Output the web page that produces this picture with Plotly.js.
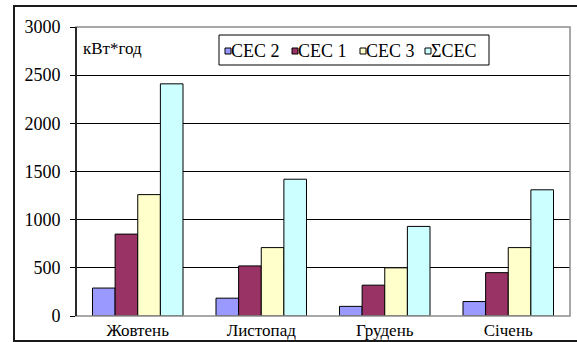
<!DOCTYPE html>
<html>
<head>
<meta charset="utf-8">
<script src="https://cdn.plot.ly/plotly-3.0.1.min.js"></script>
<style>
  html, body { margin: 0; padding: 0; background: #ffffff; }
  #chart { width: 577px; height: 342px; }
</style>
</head>
<body>
<div id="chart"></div>
<script>
// Monthly electricity output of the solar stations, kWh
const months = ['Жовтень', 'Листопад', 'Грудень', 'Січень'];
const seriesNames = ['СЕС 2', 'СЕС 1', 'СЕС 3', 'ΣСЕС'];
const ses2 = [290, 185, 100, 150];
const ses1 = [850, 520, 320, 450];
const ses3 = [1260, 710, 500, 710];
const sesTotal = [2410, 1420, 930, 1310];
const seriesValues = [ses2, ses1, ses3, sesTotal];
const seriesColors = ['#9999FF', '#993366', '#FFFFCC', '#CCFFFF'];
const yTicks = [0, 500, 1000, 1500, 2000, 2500, 3000];
const unitLabel = 'кВт*год';

// Plot-area geometry in pixels
const FIG_W = 577, FIG_H = 342;
const L = 76, R = 570, T = 27, B = 316;
const PW = R - L, PH = B - T;
const px = x => (x - L) / PW;
const py = y => (B - y) / PH;

const FONT = 'Liberation Serif';

const traces = seriesNames.map((name, i) => ({
  type: 'bar',
  name: name,
  x: months,
  y: seriesValues[i],
  marker: { color: seriesColors[i], line: { color: '#000000', width: 1 } },
  showlegend: false,
  hoverinfo: 'x+y+name'
}));

const shapes = [
  // outer frame of the chart
  { type: 'rect', xref: 'paper', yref: 'paper', x0: px(14), x1: px(590), y0: py(341), y1: py(6),
    line: { color: '#1a1a1a', width: 2 }, layer: 'below' },
  // grey plot-area border
  { type: 'rect', xref: 'paper', yref: 'paper', x0: 0, x1: 1, y0: 0, y1: 1,
    line: { color: '#8c8c8c', width: 1.5 }, layer: 'above' },
  // black value axis on the left
  { type: 'line', xref: 'paper', yref: 'paper', x0: 0, x1: 0, y0: 0, y1: 1,
    line: { color: '#000000', width: 1.5 }, layer: 'above' },
  // legend box
  { type: 'rect', xref: 'paper', yref: 'paper', x0: px(219), x1: px(489), y0: py(65), y1: py(35),
    line: { color: '#000000', width: 1 }, fillcolor: '#ffffff', layer: 'above' }
];

const annotations = [
  { xref: 'paper', yref: 'paper', x: px(81), y: py(48), xanchor: 'left', yanchor: 'middle',
    text: unitLabel, showarrow: false, font: { family: FONT, size: 17, color: '#000000' } }
];

// legend entries: colour square + series name
const legendSquareX = [225, 292, 360, 425];
const SQ = 6, SQ_TOP = 48;
seriesNames.forEach((name, i) => {
  const x0 = legendSquareX[i];
  shapes.push({ type: 'rect', xref: 'paper', yref: 'paper',
    x0: px(x0), x1: px(x0 + SQ), y0: py(SQ_TOP + SQ), y1: py(SQ_TOP),
    line: { color: '#000000', width: 1 }, fillcolor: seriesColors[i], layer: 'above' });
  annotations.push({ xref: 'paper', yref: 'paper', x: px(x0 + SQ - 2), y: py(51), xanchor: 'left', yanchor: 'middle',
    text: name, showarrow: false, font: { family: FONT, size: 18, color: '#000000' } });
});

const layout = {
  width: FIG_W,
  height: FIG_H,
  margin: { l: L, r: FIG_W - R, t: T, b: FIG_H - B, pad: 0 },
  paper_bgcolor: '#ffffff',
  plot_bgcolor: '#ffffff',
  barmode: 'group',
  bargap: 0.267,
  bargroupgap: 0,
  showlegend: false,
  font: { family: FONT, size: 18, color: '#000000' },
  xaxis: {
    type: 'category',
    showgrid: false,
    showline: false,
    ticks: '',
    ticklabelstandoff: 2,
    tickfont: { family: FONT, size: 17, color: '#000000' },
    fixedrange: true
  },
  yaxis: {
    range: [0, 3000],
    tickvals: yTicks,
    ticktext: yTicks.map(String),
    showgrid: true,
    gridcolor: '#000000',
    gridwidth: 1,
    zeroline: false,
    showline: false,
    ticks: 'outside',
    ticklen: 5,
    tickcolor: '#000000',
    tickwidth: 1,
    ticklabelstandoff: 6,
    tickfont: { family: FONT, size: 18, color: '#000000' },
    fixedrange: true
  },
  shapes: shapes,
  annotations: annotations
};

Plotly.newPlot('chart', traces, layout, { displayModeBar: false, staticPlot: true });
</script>
</body>
</html>
